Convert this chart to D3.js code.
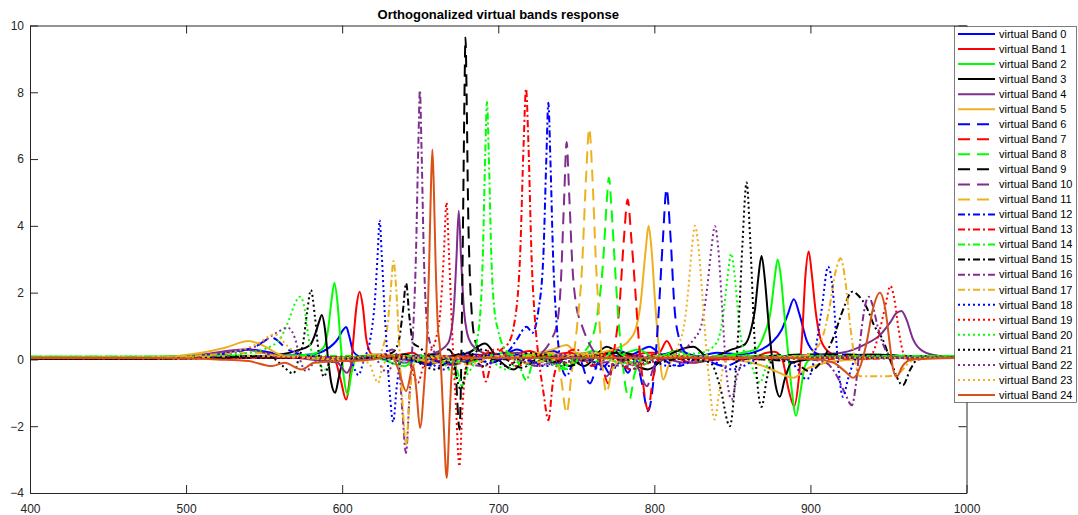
<!DOCTYPE html>
<html><head><meta charset="utf-8">
<script src="https://cdn.jsdelivr.net/npm/d3@7/dist/d3.min.js"></script>
<style>body{margin:0;background:#fff;} svg{display:block;}</style>
</head><body>
<svg id="chart" width="1078" height="515"></svg>
<script>
// ---------------- data ----------------
const chartTitle = "Orthogonalized virtual bands response";
const bandLabels = ["virtual Band 0","virtual Band 1","virtual Band 2","virtual Band 3","virtual Band 4","virtual Band 5","virtual Band 6","virtual Band 7","virtual Band 8","virtual Band 9","virtual Band 10","virtual Band 11","virtual Band 12","virtual Band 13","virtual Band 14","virtual Band 15","virtual Band 16","virtual Band 17","virtual Band 18","virtual Band 19","virtual Band 20","virtual Band 21","virtual Band 22","virtual Band 23","virtual Band 24"];
const xTickValues = [400,500,600,700,800,900,1000];
const yTickValues = [-4,-2,0,2,4,6,8,10];

// [wavelength, response]
const band0 = [[400,0.05],[480,0.06],[500,0.1],[520,0.15],[540,0.3],[552,0.22],[565,0.12],[580,0.15],[590,0.3],[597.5,0.63],[600.5,0.88],[602.6,0.97],[604.5,0.7],[607.2,0.23],[612,0.08],[625,0.05],[640,0.15],[650,-0.1],[660,0.1],[670,0.0],[685,0.15],[700,0.05],[712,0.3],[722,0.1],[735,0.25],[745,0.05],[757,0.2],[765,0.1],[775,0.3],[785,0.15],[797,0.38],[805,0.15],[815,0.25],[828,0.1],[840,0.2],[855,0.15],[867.6,0.28],[875,0.5],[881.5,0.88],[885.5,1.35],[889.4,1.8],[893,1.35],[897.5,0.58],[903.9,0.18],[915,0.05],[930,0.02],[950,0.05],[970,0.05],[1000,0.08]];
const band1 = [[400,0.03],[480,0.03],[520,0.05],[560,0.05],[585,0.05],[595,0.0],[599,-0.6],[602.5,-1.2],[605,-0.5],[607,0.5],[609.2,1.6],[611.2,2.03],[613.2,1.6],[615.5,0.6],[619,0.15],[630,0.05],[645,0.2],[655,-0.1],[665,0.1],[680,0.0],[695,0.2],[705,0.05],[720,0.25],[730,0.1],[745,0.2],[760,0.1],[772,0.25],[785,0.1],[795,0.2],[803,0.2],[808,0.55],[813,0.15],[825,-0.1],[840,0.05],[865,0.1],[872,0.2],[877,0.23],[882,0.0],[886,-0.9],[889.6,-1.4],[892.5,-0.6],[894.8,0.8],[896.8,2.5],[898.9,3.23],[901,2.5],[903.2,1.5],[906,0.7],[910,0.3],[918,0.1],[935,0.05],[960,0.05],[1000,0.05]];
const band2 = [[400,0.08],[470,0.08],[500,0.1],[530,0.12],[560,0.1],[580,0.15],[588,0.35],[591,0.9],[593,1.7],[595,2.3],[597,1.7],[599,0.5],[601,-0.5],[603.5,-1.05],[606,-0.4],[609,0.0],[620,0.05],[640,-0.2],[650,0.1],[665,-0.1],[690,0.05],[705,0.2],[720,-0.15],[735,0.15],[745,-0.2],[760,0.25],[775,0.1],[790,0.3],[800,0.05],[815,0.25],[830,-0.05],[850,0.15],[865,0.3],[870,0.7],[874.7,1.5],[877,2.4],[879,2.99],[881,2.5],[883,1.5],[885.5,0.3],[888,-0.9],[890.8,-1.69],[893.5,-1.0],[896.5,-0.2],[900,0.0],[920,0.1],[960,0.1],[1000,0.1]];
const band3 = [[400,0.02],[480,0.03],[520,0.05],[550,0.1],[570,0.25],[579.4,0.43],[583,0.8],[585,1.1],[587,1.33],[589,0.9],[591,0.0],[593,-0.7],[595.5,-1.0],[598,-0.5],[601,0.0],[620,0.05],[640,0.15],[655,-0.15],[670,0.1],[681,0.2],[691.5,0.48],[700,0.0],[710,-0.3],[720,0.15],[735,-0.1],[745,0.05],[755,-0.2],[769.5,0.38],[780,0.05],[795.8,-0.3],[808,0.1],[825,0.38],[835,0.05],[849.7,0.3],[858,0.45],[862,0.9],[864.5,1.5],[866.5,2.4],[868.7,3.1],[870.8,2.4],[873,1.2],[875.5,0.0],[877.8,-0.8],[880.4,-1.12],[883.5,-0.6],[888,-0.1],[910,0.05],[940,0.15],[960,0.1],[1000,0.05]];
const band4 = [[400,0.05],[480,0.06],[510,0.15],[537,0.3],[555,0.15],[580,0.0],[597,-0.1],[603,-0.4],[608,0.0],[625,0.15],[640,-0.1],[652,0.1],[660,0.2],[668,0.5],[671.5,1.5],[673.2,3.0],[674.7,4.45],[676.2,3.0],[678,1.5],[680,0.8],[683,0.45],[690,0.2],[700,0.0],[712,0.2],[725,-0.1],[740,0.15],[755,-0.05],[770,0.2],[785,-0.15],[800,0.1],[820,-0.1],[850,0.05],[880,0.1],[905,0.15],[920,0.2],[935,0.45],[945,0.75],[951,1.1],[955,1.38],[958.3,1.45],[961.5,1.2],[965.8,0.6],[972,0.25],[983,0.1],[1000,0.05]];
const band5 = [[400,0.06],[480,0.07],[510,0.2],[525,0.35],[540,0.55],[550,0.4],[560,0.15],[575,0.05],[600,0.0],[620,0.15],[640,0.1],[660,-0.1],[680,0.1],[700,0.1],[720,0.15],[735,0.3],[743.8,0.43],[750,0.2],[760,0.15],[770,0.25],[776,0.33],[784,0.58],[788,0.9],[791,1.6],[794.5,3.3],[796.3,4.0],[798.2,3.3],[800.5,1.7],[803,0.3],[805.7,-0.6],[809,-0.2],[815,0.1],[840,0.05],[870,-0.2],[880,-0.4],[889,-0.55],[897,-0.3],[910,-0.1],[930,0.0],[960,0.05],[1000,0.05]];
const band6 = [[400,0.05],[480,0.05],[520,0.15],[545,0.4],[555,0.65],[565,0.3],[580,0.1],[600,0.05],[640,0.0],[660,-0.2],[680,0.1],[695,-0.1],[710,0.15],[725,-0.1],[740,0.1],[752,0.0],[758.7,-0.72],[765,0.0],[772,-0.45],[778,0.0],[783,-0.4],[788,0.0],[792,-0.7],[796,-1.55],[799.5,-0.6],[802.5,1.2],[805.5,3.6],[807.8,5.1],[810.2,3.8],[813,1.5],[816,0.6],[820,0.2],[830,0.05],[845,-0.2],[860,0.05],[900,0.1],[920,0.15],[960,0.05],[1000,0.05]];
const band7 = [[400,0.03],[480,0.04],[540,0.05],[600,0.05],[650,0.1],[670,-0.15],[690,0.05],[705,0.2],[720,0.1],[740,0.05],[755,0.1],[765,0.0],[770.5,-0.72],[774,0.2],[777.5,1.5],[780.5,3.6],[782.9,4.79],[785.3,3.6],[787.6,2.2],[790,0.6],[792.5,-0.6],[796,-1.52],[799,-0.6],[803,0.0],[820,0.05],[860,0.05],[920,0.05],[1000,0.05]];
const band8 = [[400,0.08],[480,0.08],[540,0.1],[600,0.05],[660,0.1],[680,-0.1],[700,0.15],[730,0.1],[745.4,-0.3],[752,0.1],[759,0.5],[764,1.5],[767.3,3.0],[769.2,4.5],[770.9,5.44],[772.6,4.5],[774.5,3.0],[777,1.2],[779.5,0.0],[781.5,-0.8],[784.3,-1.17],[787,-0.5],[792,0.0],[810,0.05],[850,0.1],[900,0.1],[1000,0.1]];
const band9 = [[400,0.03],[480,0.03],[550,0.05],[600,0.05],[640,0.1],[660,0.15],[668,0.3],[672,0.0],[675.2,-2.1],[676.5,0.5],[677.6,4.8],[678.3,7.7],[679,9.64],[679.8,7.7],[680.6,4.8],[681.8,2.5],[683,1.4],[685,0.6],[689,0.2],[700,0.0],[720,0.05],[760,0.05],[800,0.05],[870,0.1],[900,0.15],[1000,0.05]];
const band10 = [[400,0.05],[480,0.05],[540,0.1],[600,0.05],[650,0.1],[700,0.05],[720,0.05],[730,0.3],[734,0.6],[737.4,1.0],[740,2.2],[742.2,4.8],[743.8,6.51],[745.4,5.0],[747.5,2.8],[750,1.6],[753,1.1],[757.7,0.53],[763,0.1],[769.6,-0.5],[775,-0.1],[785,0.0],[790,-0.3],[795.2,-0.8],[800,-0.2],[810,0.05],[850,0.05],[1000,0.05]];
const band11 = [[400,0.05],[480,0.05],[540,0.1],[600,0.05],[660,0.05],[720,0.1],[735,0.2],[740,-0.5],[743.8,-1.6],[747,-0.4],[750.5,1.0],[753.5,2.6],[756.3,5.5],[758.3,6.91],[760.3,5.5],[762.5,3.0],[765,1.0],[767,-0.3],[769.4,-1.0],[773,-0.3],[780,0.0],[800,0.05],[850,0.05],[1000,0.05]];
const band12 = [[400,0.05],[480,0.05],[540,0.05],[600,0.05],[650,0.05],[670,-0.15],[690,0.1],[705,0.2],[712,0.6],[718.1,0.98],[722,0.8],[725.5,1.4],[728.8,3.0],[730.8,6.0],[732.1,7.69],[733.4,6.0],[735.2,3.0],[737.5,1.0],[740.5,-0.2],[743.8,-0.5],[748,-0.1],[755,0.05],[765,-0.3],[775,0.1],[785,-0.3],[800,0.1],[815,-0.2],[830,0.05],[850,0.05],[1000,0.05]];
const band13 = [[400,0.03],[480,0.03],[540,0.05],[600,0.05],[660,0.05],[680,0.1],[688,0.1],[692,-0.66],[696,0.0],[702,0.3],[706.4,0.48],[710,1.0],[713.9,3.0],[716.3,6.5],[717.8,8.11],[719.3,6.5],[721.4,3.0],[723.5,1.2],[726,0.0],[729,-1.0],[732.1,-1.82],[735,-0.7],[740,0.05],[750,0.3],[760,-0.2],[770,0.2],[785,-0.3],[800,0.15],[820,0.0],[1000,0.05]];
const band14 = [[400,0.08],[480,0.08],[540,0.1],[600,0.1],[650,0.1],[670,0.05],[673.5,-0.3],[676.6,-0.8],[680,-0.3],[684,0.2],[687.5,0.9],[690,2.9],[691.7,6.2],[692.8,7.71],[693.9,6.2],[695.7,2.9],[697.5,1.5],[699.9,0.88],[703,0.4],[706.4,0.2],[712,0.0],[718,-0.62],[723,0.0],[730,0.1],[742,-0.3],[752,0.2],[760,-0.1],[775,0.25],[790,-0.2],[805,0.1],[1000,0.1]];
const band15 = [[400,0.03],[480,0.03],[540,0.05],[580,0.05],[620,0.1],[632,0.2],[636,0.5],[638.8,1.4],[641,2.28],[643,1.3],[645.6,0.48],[650,0.35],[655,0.1],[665,0.05],[680,0.2],[690,-0.2],[700,0.1],[715,-0.25],[730,0.15],[745,-0.2],[760,0.1],[780,0.2],[800,-0.1],[820,0.05],[870,0.0],[890,-0.1],[899,-0.35],[906.4,-0.1],[914.9,0.68],[921,1.5],[926.8,2.03],[931,1.9],[935.8,1.58],[941,1.0],[946.5,0.58],[951.8,-0.1],[959.2,-0.77],[964,-0.3],[968.8,0.0],[980,0.05],[1000,0.05]];
const band16 = [[400,0.05],[480,0.05],[540,0.1],[600,0.05],[625,0.1],[632,0.3],[636,0.0],[638.5,-1.5],[640.9,-2.8],[643,-1.2],[645.2,0.6],[647.2,3.0],[648.8,6.4],[649.8,8.06],[650.8,6.4],[652.4,3.0],[654.5,1.0],[657,0.4],[661,0.15],[670,0.05],[690,-0.2],[705,0.1],[725,-0.2],[745,0.15],[765,-0.1],[790,0.1],[820,0.05],[880,0.05],[900,0.0],[910,-0.1],[917,-0.5],[922,-1.0],[926.6,-1.37],[929,-0.8],[932,0.6],[935,1.6],[937.3,1.88],[940,1.6],[943,1.0],[947,0.4],[952,0.1],[960,0.05],[1000,0.05]];
const band17 = [[400,0.06],[480,0.07],[520,0.15],[545,0.2],[560,0.1],[600,0.05],[618,0.05],[623,0.1],[626.2,0.38],[629,1.0],[631,2.0],[632.9,2.95],[634.5,2.2],[636.5,0.5],[638.5,-1.2],[641,-2.55],[643,-1.3],[645.5,-0.2],[650,0.0],[665,0.1],[680,-0.15],[700,0.1],[720,-0.1],[740,0.05],[760,0.2],[780,-0.1],[800,0.1],[860,0.05],[895,0.1],[903,0.3],[908,0.7],[912,1.5],[916,2.6],[919.4,3.03],[922.5,2.3],[925.5,1.0],[928.5,0.0],[931.5,-0.5],[940,-0.5],[950,-0.5],[957,-0.4],[963,-0.1],[970,0.05],[1000,0.05]];
const band18 = [[400,0.05],[480,0.05],[540,0.05],[570,0.05],[600,0.05],[606,-0.1],[610.4,-0.47],[614,0.0],[618,0.6],[621,1.8],[622.8,3.2],[624,4.17],[625.3,3.2],[627,1.6],[628.8,0.2],[630.5,-1.0],[632.7,-1.87],[635,-0.8],[638,0.0],[650,0.05],[665,-0.3],[680,0.2],[695,-0.1],[710,0.1],[730,-0.2],[750,0.1],[770,-0.2],[790,0.1],[810,-0.2],[830,0.1],[850,-0.3],[870,0.05],[885,0.0],[892,-0.3],[897.5,-0.6],[901,-0.3],[904,0.5],[907.5,1.6],[911.3,2.78],[914.5,2.0],[917.5,0.0],[920.9,-1.12],[924,-0.6],[930,0.05],[950,0.05],[1000,0.05]];
const band19 = [[400,0.03],[480,0.03],[540,0.05],[600,0.05],[630,0.1],[640,0.1],[644,-0.2],[648.5,-0.7],[652,-0.2],[656,0.2],[660,0.6],[663,1.5],[665.2,3.2],[666.8,4.69],[668.4,3.2],[670.5,0.8],[672.8,-1.3],[675.1,-3.2],[677,-1.5],[679.5,-0.2],[685,0.05],[700,0.3],[712,-0.2],[725,0.15],[745,-0.1],[765,0.15],[790,-0.15],[815,0.1],[840,0.0],[860,0.05],[900,0.05],[925,0.1],[935,0.0],[940,0.2],[944,0.8],[948,1.6],[951.2,2.2],[953.8,1.8],[956.5,0.9],[959.5,0.2],[963,0.0],[975,0.05],[1000,0.05]];
const band20 = [[400,0.08],[480,0.08],[520,0.12],[540,0.2],[553.8,0.38],[560,0.6],[566,1.2],[570,1.7],[573,1.88],[576,1.5],[578,0.8],[580,0.3],[584,0.0],[589,-0.3],[594,0.0],[600,0.05],[620,0.1],[640,-0.1],[660,0.05],[676,-0.6],[690,0.1],[705,-0.3],[720,0.15],[740,-0.2],[760,0.1],[780,-0.1],[800,0.1],[830,0.2],[840,0.5],[844,1.3],[847,2.5],[849.2,3.17],[851.5,2.5],[854,1.2],[857,0.3],[861,0.0],[864,-0.4],[867.8,-0.7],[871,-0.3],[876,0.0],[900,0.05],[950,0.1],[1000,0.1]];
const band21 = [[400,0.02],[480,0.02],[520,0.05],[545,0.1],[555,0.05],[562,-0.2],[568.7,-0.42],[572,0.0],[575,0.5],[577.5,1.4],[580,2.08],[582.5,1.3],[585,0.2],[588.3,-0.52],[592,-0.1],[600,0.0],[640,0.05],[660,-0.3],[670,0.0],[676,-0.9],[681,0.0],[690,0.3],[705,-0.2],[720,0.2],[740,-0.1],[760,0.1],[780,0.0],[800,0.05],[825,0.0],[836,-0.1],[842,-0.8],[848.4,-2.0],[851.5,-0.8],[854,1.0],[856.5,3.5],[859.1,5.3],[861.5,3.5],[864,0.8],[866,-0.7],[868.7,-1.42],[872,-0.6],[876,0.0],[900,0.05],[950,0.05],[1000,0.05]];
const band22 = [[400,0.05],[480,0.05],[520,0.15],[545,0.4],[558,0.8],[565,0.95],[570,0.6],[573,0.0],[577,-0.35],[582,-0.1],[590,0.0],[620,0.05],[629,-0.4],[634,0.0],[660,0.05],[700,0.05],[730,-0.15],[760,0.05],[780,-0.2],[800,0.0],[815,0.2],[824.9,0.58],[830,1.0],[834,2.2],[836.5,3.3],[838.8,3.99],[841,3.3],[843.5,1.5],[846,-0.3],[849.5,-1.2],[853,-0.5],[858,0.0],[880,0.05],[920,0.05],[1000,0.05]];
const band23 = [[400,0.06],[480,0.06],[520,0.15],[545,0.45],[557,0.75],[565,0.4],[575,0.05],[600,0.0],[617,-0.1],[620.5,-0.5],[623,-0.7],[626,-0.2],[630,0.0],[660,0.05],[700,0.05],[730,0.15],[760,0.1],[785,-0.15],[800,0.05],[812,0.1],[816,0.5],[819,1.0],[822,2.2],[824,3.3],[826,4.0],[828,3.5],[830,2.4],[832.5,0.8],[835,-0.6],[838.7,-1.8],[841.5,-1.0],[845,-0.1],[850,0.05],[880,0.05],[1000,0.05]];
const band24 = [[400,0.05],[480,0.04],[520,0.0],[540,-0.05],[555,-0.2],[563,-0.1],[574,-0.3],[582,-0.1],[600,-0.05],[620,0.0],[632,0.1],[636,-0.3],[641,-0.95],[645.5,-0.2],[647.5,-0.9],[649.9,-2.05],[652.5,-0.8],[654.5,0.8],[655.8,3.0],[656.9,5.2],[657.8,6.29],[658.7,5.2],[659.8,3.0],[661.3,1.0],[662.7,0.3],[664.8,-1.7],[667,-3.55],[669,-1.5],[670.5,-0.2],[674,0.1],[680,0.05],[700,0.05],[760,0.05],[820,0.05],[880,0.05],[905,0.0],[915,-0.1],[922,-0.35],[927.5,-0.55],[932,-0.2],[936,0.5],[940,1.5],[944.5,2.0],[948,1.5],[951,0.4],[953,-0.3],[955.2,-0.52],[959,-0.2],[965,0.0],[1000,0.05]];

const bandSeries = [band0,band1,band2,band3,band4,band5,band6,band7,band8,band9,band10,band11,band12,band13,band14,band15,band16,band17,band18,band19,band20,band21,band22,band23,band24];

// ---------------- styles ----------------
const palette = ["#0000FF","#FF0000","#00FF00","#000000","#7E2F8E","#EDB120"];
const orangeRed = "#D95319";
const dashFor = k => k === 0 ? null : k === 1 ? "12,7" : k === 2 ? "7,3,2,3" : "2,3";
function styleOf(i){
  if (i === 24) return {color: orangeRed, dash: null};
  return {color: palette[i % 6], dash: dashFor(Math.floor(i / 6))};
}

// ---------------- layout ----------------
const svg = d3.select("#chart");
const L = 30, R = 966.5, T = 25.5, B = 493;
const x = d3.scaleLinear().domain([400,1000]).range([L,R]);
const y = d3.scaleLinear().domain([-4,10]).range([B,T]);
const axisColor = "#262626";
const font = "'Liberation Sans', Arial, sans-serif";

svg.append("rect").attr("width",1078).attr("height",515).attr("fill","#fff");

svg.append("defs").append("clipPath").attr("id","clip")
  .append("rect").attr("x",L).attr("y",T).attr("width",R-L).attr("height",B-T);
const line = d3.line().x(d => x(d[0])).y(d => y(d[1])).curve(d3.curveMonotoneX);
const g = svg.append("g").attr("clip-path","url(#clip)");
bandSeries.forEach((s,i) => {
  const st = styleOf(i);
  g.append("path").datum(s).attr("d", line)
    .attr("fill","none").attr("stroke", st.color).attr("stroke-width", 2)
    .attr("stroke-linejoin","round")
    .attr("stroke-dasharray", st.dash);
});

// axes (box with inward ticks)
const tick = 8;
function styleAxis(sel){
  sel.select(".domain").attr("stroke", axisColor).attr("stroke-width",1);
  sel.selectAll(".tick line").attr("stroke", axisColor).attr("stroke-width",1);
  sel.selectAll("text").attr("fill", axisColor).style("font-family", font).style("font-size","12px");
}
const xb = svg.append("g").attr("transform",`translate(0,${B})`)
  .call(d3.axisBottom(x).tickValues(xTickValues).tickSizeInner(-tick).tickSizeOuter(0).tickPadding(11).tickFormat(d3.format("d")));
styleAxis(xb);
const xt = svg.append("g").attr("transform",`translate(0,${T})`)
  .call(d3.axisTop(x).tickValues(xTickValues).tickSizeInner(-tick).tickSizeOuter(0).tickFormat(""));
styleAxis(xt);
const yl = svg.append("g").attr("transform",`translate(${L},0)`)
  .call(d3.axisLeft(y).tickValues(yTickValues).tickSizeInner(-tick).tickSizeOuter(0).tickPadding(6).tickFormat(d3.format("d")));
styleAxis(yl);
const yr = svg.append("g").attr("transform",`translate(${R},0)`)
  .call(d3.axisRight(y).tickValues(yTickValues).tickSizeInner(-tick).tickSizeOuter(0).tickFormat(""));
styleAxis(yr);

// title
svg.append("text").attr("x",(L+R)/2).attr("y",19).attr("text-anchor","middle")
  .style("font-family",font).style("font-size","13px").style("font-weight","bold")
  .attr("fill","#000").text(chartTitle);

// legend
const lgX = 954.5, lgY = 26.5, rowH = 15.04;
const lg = svg.append("g");
lg.append("rect").attr("x",lgX).attr("y",lgY).attr("width",122).attr("height",376)
  .attr("fill","#fff").attr("stroke","#262626").attr("stroke-width",0.6);
const rowY = d3.scaleLinear().domain([0,24]).range([34,34+24*rowH]);
bandLabels.forEach((lab,i) => {
  const st = styleOf(i);
  const yy = rowY(i);
  lg.append("line").attr("x1",958).attr("x2",995).attr("y1",yy).attr("y2",yy)
    .attr("stroke",st.color).attr("stroke-width",2).attr("stroke-dasharray",st.dash);
  lg.append("text").attr("x",999).attr("y",yy).attr("dy","0.35em")
    .style("font-family",font).style("font-size","11px").attr("fill","#000").text(lab);
});
</script>
</body></html>
